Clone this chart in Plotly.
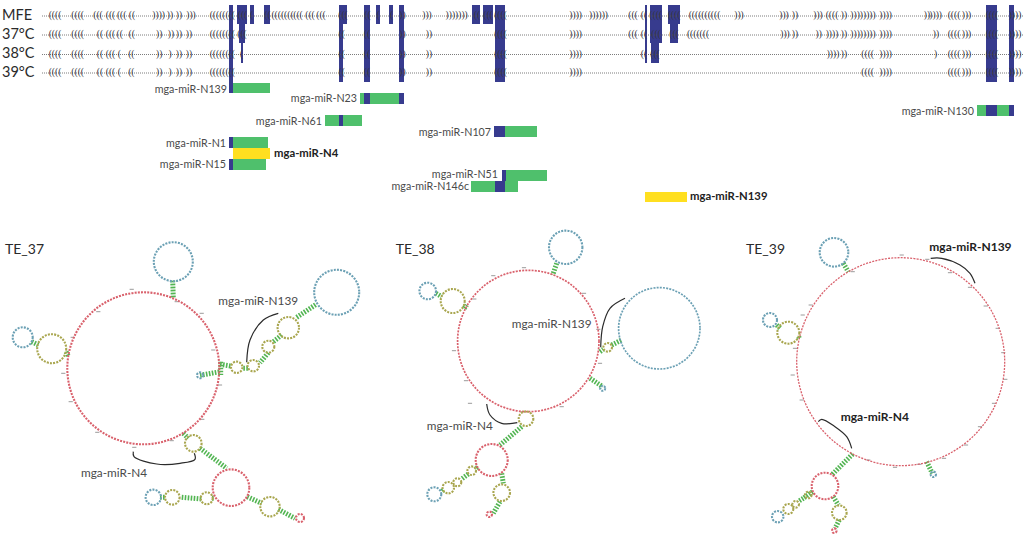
import plotly.graph_objects as go

FONT = 'Lato'
TEXT_COL = '#4a4a4a'

# Wegpunkte im Bildraster (x 0-1024, y 0-537)
TRACK_Y = [16, 35, 54.5, 73]
TRACK_NAMES = ['MFE', '37°C', '38°C', '39°C']
TRACK_START = 42
TRACK_END = 1024

MFE_X = [55, 77.7, 98, 110.5, 121.7, 132, 158.7, 170, 179, 191, 222.3, 242.5, 251.7, 267.5, 282.5, 298, 310, 321,
         343, 367.5, 378, 391.7, 402.5, 427, 456.7, 477, 488, 500.5,
         575.7, 598.5, 633, 644, 655.7, 674, 704.5, 739, 784, 795, 818, 832, 844, 863, 885.7, 927, 935.7, 954, 966.5, 992, 1015]
MFE_G = ['((((', '((((', '(((', '(((', '(((', '((', '))))', '))', '))', ')))', '((((((((', '(((', '(', '((', '(((((((', '(((', '(((', '(((',
         '(((', '((', '(', '(', '))', ')))', ')))))))', '((', '(((', '((((',
         '))))', '))))))', '(((', '((', '((((', '((((', '((((((((((', ')))', ')))', '))', ')))', '((((', '))', '))))))))', '))))', '))', '))))', '((((', ')))', '((((', '))))']

T37_X = [55, 77.7, 100, 110.5, 119.7, 131.7, 159.2, 171, 179, 189, 222.3, 242, 341.7, 367, 402.5, 429, 500.5,
         575.7, 633, 644, 656, 674, 698, 785, 795, 818.7, 832, 844, 863, 885.7, 936, 954, 966.5, 992, 1015]
T37_G = ['((((', '((((', '((', '(((', '((', '((', '))', '))', '))', '))', '((((((((', '(((', '((', '((', '))', '))', '((((',
         '))))', '(((', '((', '(((', '(((', '(((((((', ')))', '))', '))', '))))', '))', '))))))))', '))))', '))', '((((', ')))', '((((', '))))']

T38_X = [55, 77.7, 100, 110.5, 119.3, 131.3, 159.2, 170, 179, 189, 222.3, 241.7, 341.7, 367, 402.5, 429, 500.5,
         575.7, 644, 655, 833, 844, 867.7, 885.7, 935.7, 954, 966.5, 992, 1015]
T38_G = ['((((', '((((', '((', '(((', '(', '((', '))', ')', '))', '))', '((((((((', '(', '((', '((', '))', '))', '((((',
         '))))', '((', '(((', '))))', '))', '((((', '))))', ')', '((((', ')))', '((((', '))))']

T39_X = [55, 77.7, 100, 110.5, 119.3, 131.3, 159.2, 170, 179, 189, 222.3, 341.7, 367, 402.5, 429, 500.5,
         575.7, 867.7, 885.7, 954, 966.5, 992, 1015]
T39_G = ['((((', '((((', '((', '(((', '(', '((', '))', ')', '))', '))', '((((((((', '((', '((', '))', '))', '((((',
         '))))', '((((', '))))', '((((', ')))', '((((', '))))']

# Blaue Blöcke: obere Spuren und miRNA-Treffer
BLUE_X0 = [228.5, 237, 239, 241, 249.5, 264, 339, 339, 364, 376, 389, 399, 472, 483, 495, 645, 649.5, 651, 668, 670, 986, 1009,
           364, 399, 339, 494, 228.5, 228.5, 501.7, 495, 986, 1009]
BLUE_X1 = [232.7, 247, 245, 243, 253.7, 270, 347, 343, 370, 380, 393, 404, 480, 493, 505, 647, 661.5, 659, 680, 678, 997, 1014,
           370, 404, 343, 505, 232.7, 232.7, 505.5, 505, 997, 1014]
BLUE_Y0 = [4.5, 4.5, 24, 43, 4.5, 4.5, 4.5, 24, 4.5, 4.5, 4.5, 4.5, 4.5, 4.5, 4.5, 4.5, 4.5, 43, 4.5, 24, 4.5, 4.5,
           93, 93, 115, 126, 137, 159, 170, 181, 104.5, 104.5]
BLUE_Y1 = [93, 24, 43, 63, 24, 24, 24, 82, 82, 24, 24, 82, 24, 24, 82, 63, 43, 63, 24, 43, 82, 82,
           104, 104, 126, 137, 148, 170, 181, 192, 115.5, 115.5]

GREEN_X0 = [232.7, 360, 324.5, 505, 232.7, 232.7, 505, 470.7, 976.5]
GREEN_X1 = [270, 399, 362, 537, 268, 266, 547, 517.7, 1009]
GREEN_Y0 = [82.5, 93, 115, 126, 137, 159, 170, 181, 104.5]
GREEN_Y1 = [93, 104, 126, 137, 148, 170, 181, 192, 115.5]

YELLOW_X0 = [232.7, 645]
YELLOW_X1 = [270, 686.5]
YELLOW_Y0 = [148, 191.7]
YELLOW_Y1 = [159, 202]

MIR_X = [227, 357, 322, 491, 226, 226, 498, 469, 974]
MIR_Y = [90, 99, 122, 133, 144, 165, 175, 187, 112]
MIR_T = ['mga-miR-N139', 'mga-miR-N23', 'mga-miR-N61', 'mga-miR-N107', 'mga-miR-N1', 'mga-miR-N15',
         'mga-miR-N51', 'mga-miR-N146c', 'mga-miR-N130']
BOLD_X = [274, 690]
BOLD_Y = [154, 197]
BOLD_T = ['mga-miR-N4', 'mga-miR-N139']

# Sekundärstrukturen: Schleifen (Mitte + Radius)
RED_X = [143.3, 231, 300, 528.3, 491.7, 489.3, 900.7, 825, 834.3]
RED_Y = [368.3, 487.7, 518, 341, 460, 514.3, 361.7, 486, 530.7]
RED_R = [76, 18.3, 4, 70.7, 16, 2.7, 104, 13.3, 2.3]

BLUE_LOOP_X = [173.3, 22.7, 336.7, 200, 153.3, 565.7, 427.7, 659.3, 602.7, 434.3, 834, 770, 933.3, 777.7]
BLUE_LOOP_Y = [261.7, 337.3, 292.3, 375.3, 497.3, 247.3, 291, 328.3, 388.3, 494.3, 252.3, 320, 474.3, 516.7]
BLUE_LOOP_R = [19.5, 10, 22.5, 3, 7.7, 16.7, 8.3, 40.7, 2.5, 7, 14.3, 7, 2.7, 5.7]

OLIVE_X = [51.7, 288.3, 268.3, 253.3, 236.7, 193.3, 270, 206.7, 172.3,
           452.7, 607.7, 526, 501.7, 471.7, 457.3, 448.3,
           788.3, 839.3, 808.3, 795.7, 788.3]
OLIVE_Y = [348.7, 327.7, 346.7, 365.7, 367.3, 443.3, 506.7, 498.3, 497.3,
           301, 347.3, 418.7, 492.7, 470.7, 482.3, 487.7,
           332.7, 512.7, 495, 504.3, 509]
OLIVE_R = [14.5, 10.7, 6, 5.7, 5.7, 8.3, 9.7, 6, 7.3,
           12, 4.3, 7.3, 8.3, 4.3, 4, 5.7,
           11, 7.3, 3.3, 3.3, 5]

# Stämme: je Start/Ende
STEM_X0 = [172.7, 31.7, 66, 296.7, 281.7, 268.3, 220, 243.3, 200, 220.7, 183.3, 200, 247.3, 278.3, 181.7, 160, 212,
           556.7, 436, 464.3, 611.7, 600, 590, 521.7, 501.7, 500, 468.3, 477.7, 443.3,
           843.3, 776.7, 798.7, 926.7, 852.7, 833.3, 839.3, 812.7, 803.3]
STEM_Y0 = [280.7, 341.7, 351.7, 317.3, 335, 352.7, 364.3, 368.3, 375.3, 361.7, 433.3, 448.3, 496.7, 509.3, 497.3, 497.3, 498.3,
           263.3, 293.3, 308.3, 345, 351.7, 378.3, 426.7, 473.3, 501.7, 474, 467.3, 490,
           263.3, 325, 336.7, 461.7, 454, 496.7, 520, 491.7, 498.3]
STEM_X1 = [173.3, 38.3, 68.3, 316.7, 273.3, 260, 230.7, 248.3, 220, 220.7, 188.3, 226.7, 261.7, 295, 201.7, 165, 215,
           552.7, 441.7, 466.7, 621.7, 603.3, 602.7, 500, 503.3, 493.3, 461.7, 475, 441.7,
           848.3, 780, 799.3, 932.3, 831.7, 838.3, 835, 803.3, 799]
STEM_Y1 = [298.3, 345, 356, 304, 341.7, 362.7, 366, 368.3, 371.7, 375, 438.3, 468.3, 503.3, 518.3, 499, 497.3, 498.3,
           275, 296.7, 305, 340, 349.3, 386.7, 445, 483.3, 513.3, 479, 469.3, 491.7,
           271.7, 328.3, 338.3, 473.3, 475, 505, 528.3, 498.3, 501]

# Nummerierungs-Striche außen an den großen Ringen
TICK_X = [131.7, 98.3, 72.7, 63.3, 70.7, 97.3, 134.3, 171.7, 213.3, 220, 202.3, 201.7, 176.7,
          524, 474.3, 454, 466, 493.3, 584, 598.3, 600, 561.7, 523.3, 470,
          901.7, 927.3, 950, 970, 985.7, 997.7, 1003.3, 1005.3, 994, 980, 966, 944, 919.3, 895, 868.3, 801.7, 792.7, 795, 802.7, 810.7, 852.7]
TICK_Y = [289.3, 311.7, 337.3, 373.3, 401.7, 432.3, 447.3, 440.7, 350, 385, 419.3, 313.3, 301.7,
          267.7, 299, 350.7, 380.7, 275.7, 293.3, 329.3, 363.3, 406.7, 411.7, 403.3,
          255, 259.3, 272.7, 287.3, 306, 328.3, 352.7, 379.3, 403.3, 426.7, 445, 458.3, 464.3, 467.3, 460, 400, 375, 348.3, 315, 305, 271.7]

# Bögen für die miRNA-Bindestellen
ARC_N139_37_X = [246.7, 250, 263.3, 278.3]
ARC_N139_37_Y = [362.3, 340, 320, 313.3]
ARC_N4_37_X = [133.3, 134, 156.7, 180, 195, 194.3]
ARC_N4_37_Y = [451.7, 456.7, 464, 463.3, 459.3, 453.3]
ARC_N139_38_X = [600.7, 602.7, 610, 625]
ARC_N139_38_Y = [347.3, 326.7, 308.3, 298.3]
ARC_N4_38_X = [486.7, 490, 501.7, 517.3]
ARC_N4_38_Y = [404, 415, 423.3, 422.7]
ARC_N139_39_X = [930.7, 941.7, 960, 970, 975]
ARC_N139_39_Y = [258.3, 258.3, 265, 273.3, 283.3]
ARC_N4_39_X = [818.3, 821.7, 835, 846.7, 851.7]
ARC_N4_39_Y = [421.7, 419.3, 426.7, 436.7, 448.3]

PANEL_X = [5, 395.7, 746]
PANEL_Y = [250, 250, 250]
PANEL_T = ['TE_37', 'TE_38', 'TE_39']
NOTE_X = [218.3, 81, 511.7, 426.7]
NOTE_Y = [301.7, 474, 324.7, 426.7]
NOTE_T = ['mga-miR-N139', 'mga-miR-N4', 'mga-miR-N139', 'mga-miR-N4']
NOTE_BOLD_X = [929.3, 840.7]
NOTE_BOLD_Y = [248.3, 418.3]
NOTE_BOLD_T = ['mga-miR-N139', 'mga-miR-N4']


def bars(x0, x1, y0, y1, color):
    return go.Bar(
        x=[(a + b) / 2 for a, b in zip(x0, x1)],
        width=[b - a for a, b in zip(x0, x1)],
        base=y0,
        y=[b - a for a, b in zip(y0, y1)],
        marker=dict(color=color, line_width=0),
        showlegend=False,
    )


def text_trace(x, y, text, size, pos, color=TEXT_COL, family=FONT):
    return go.Scatter(x=x, y=y, text=text, mode='text', textposition=pos,
                      textfont=dict(family=family, size=size, color=color),
                      showlegend=False)


fig = go.Figure()

# --- Balken ---
fig.add_trace(bars(GREEN_X0, GREEN_X1, GREEN_Y0, GREEN_Y1, '#4fc06c'))
fig.add_trace(bars(YELLOW_X0, YELLOW_X1, YELLOW_Y0, YELLOW_Y1, '#ffdf20'))
fig.add_trace(bars(BLUE_X0, BLUE_X1, BLUE_Y0, BLUE_Y1, '#373b8e'))

# --- Spuren ---
for y in TRACK_Y:
    fig.add_trace(go.Scatter(x=[TRACK_START, TRACK_END], y=[y, y], mode='lines',
                             line=dict(color='#5a5a5a', width=0.8, dash='1px,1px'),
                             showlegend=False))
for y, xs, gl in zip(TRACK_Y, [MFE_X, T37_X, T38_X, T39_X], [MFE_G, T37_G, T38_G, T39_G]):
    fig.add_trace(text_trace(xs, [y] * len(xs), gl, 9.5, 'middle center', '#35353d', 'Liberation Sans Narrow'))

fig.add_trace(text_trace([2] * 4, TRACK_Y, TRACK_NAMES, 14.5, 'middle right', '#2a2a2a'))

# --- miRNA-Beschriftung ---
fig.add_trace(text_trace(MIR_X, MIR_Y, MIR_T, 10.7, 'middle left'))
fig.add_trace(text_trace(BOLD_X, BOLD_Y, [f'<b>{t}</b>' for t in BOLD_T], 11.3, 'middle right', '#222'))

# --- Schleifen ---
for xs, ys, rs, col in [(RED_X, RED_Y, RED_R, '#d9616c'),
                        (BLUE_LOOP_X, BLUE_LOOP_Y, BLUE_LOOP_R, '#6ba0b4'),
                        (OLIVE_X, OLIVE_Y, OLIVE_R, '#a9a64f')]:
    for cx, cy, r in zip(xs, ys, rs):
        w = 1.3 if r > 90 else 1.7 if r > 35 and cx > 400 else 2.1
        fig.add_shape(type='circle', x0=cx - r, x1=cx + r, y0=cy - r, y1=cy + r,
                      line=dict(color=col, width=w, dash='2px,1.2px'))

# --- Stämme ---
stem_x, stem_y = [], []
for a, b, c, d in zip(STEM_X0, STEM_Y0, STEM_X1, STEM_Y1):
    stem_x += [a, c, None]
    stem_y += [b, d, None]
fig.add_trace(go.Scatter(x=stem_x, y=stem_y, mode='lines',
                         line=dict(color='#52b552', width=5, dash='1.6px,1.4px'),
                         showlegend=False))

# --- Nummerierung ---
fig.add_trace(go.Scatter(x=TICK_X, y=TICK_Y, mode='markers',
                         marker=dict(symbol='line-ew', size=3, line=dict(color='#9a9a9a', width=1)),
                         showlegend=False))

# --- Bögen ---
for ax, ay in [(ARC_N139_37_X, ARC_N139_37_Y), (ARC_N4_37_X, ARC_N4_37_Y),
               (ARC_N139_38_X, ARC_N139_38_Y), (ARC_N4_38_X, ARC_N4_38_Y),
               (ARC_N139_39_X, ARC_N139_39_Y), (ARC_N4_39_X, ARC_N4_39_Y)]:
    fig.add_trace(go.Scatter(x=ax, y=ay, mode='lines',
                             line=dict(color='#2b2b2b', width=1.2, shape='spline'),
                             showlegend=False))

# --- Texte unten ---
fig.add_trace(text_trace(PANEL_X, PANEL_Y, PANEL_T, 14, 'middle right', '#2a2a2a'))
fig.add_trace(text_trace(NOTE_X, NOTE_Y, NOTE_T, 11.8, 'middle right'))
fig.add_trace(text_trace(NOTE_BOLD_X, NOTE_BOLD_Y, [f'<b>{t}</b>' for t in NOTE_BOLD_T], 12, 'middle right', '#222'))

fig.update_layout(
    width=1024, height=537,
    margin=dict(l=0, r=0, t=0, b=0),
    paper_bgcolor='white', plot_bgcolor='white',
    barmode='overlay',
    bargap=0,
    xaxis=dict(range=[0, 1024], visible=False, fixedrange=True),
    yaxis=dict(range=[537, 0], visible=False, fixedrange=True),
)

fig.write_html("out.html", config=dict(displayModeBar=False),
               post_script="document.body.style.margin='0';")
